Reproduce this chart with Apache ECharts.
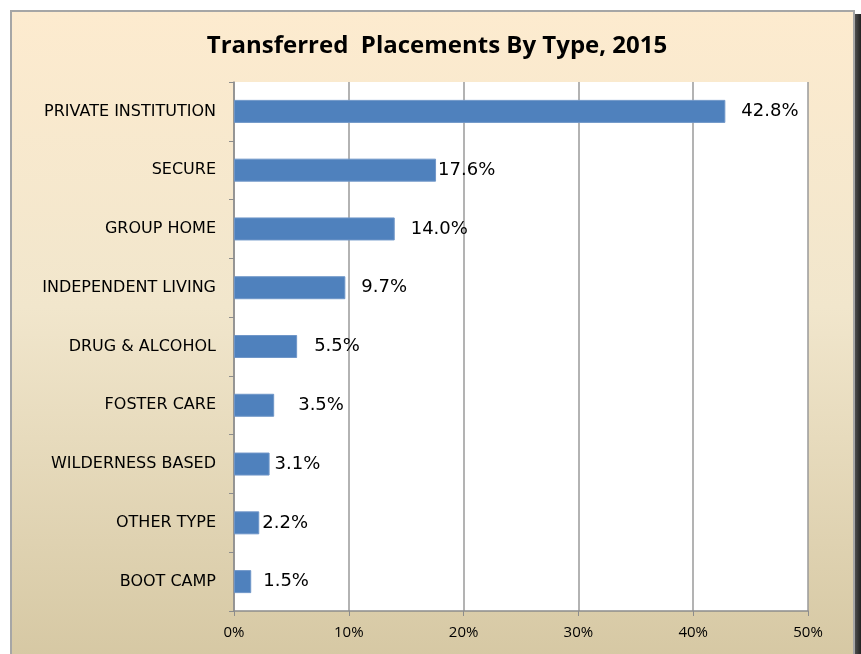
<!DOCTYPE html>
<html>
<head>
<meta charset="utf-8">
<script src="https://cdn.jsdelivr.net/npm/echarts@6/dist/echarts.min.js"></script>
<style>
  html, body { margin: 0; padding: 0; background: #fff; }
  #main { width: 861px; height: 654px; }
</style>
</head>
<body>
<div id="main"></div>
<script>
// categories listed top to bottom as in the picture
var categories = ['PRIVATE INSTITUTION', 'SECURE', 'GROUP HOME', 'INDEPENDENT LIVING',
  'DRUG & ALCOHOL', 'FOSTER CARE', 'WILDERNESS BASED', 'OTHER TYPE', 'BOOT CAMP'];
var percents = [42.8, 17.6, 14.0, 9.7, 5.5, 3.5, 3.1, 2.2, 1.5];
var xTicks = [0, 10, 20, 30, 40, 50];

var chart = echarts.init(document.getElementById('main'));

var font = '"Open Sans", "DejaVu Sans", sans-serif';
// the labels in the original sit at uneven gaps from the bar ends
var labelGap = [16, 2, 16, 16, 17, 24, 5, 3, 12];

var barData = percents.map(function (v, i) {
  return { value: v, label: { distance: labelGap[i] } };
});

var option = {
  backgroundColor: '#ffffff',
  animation: false,
  graphic: [
    {
      // drop shadow on the right edge
      type: 'rect',
      z: -10,
      shape: { x: 854, y: 14, width: 7, height: 650 },
      style: {
        fill: new echarts.graphic.LinearGradient(0, 0, 1, 0, [
          { offset: 0, color: '#555' },
          { offset: 1, color: '#222' }
        ])
      }
    },
    {
      type: 'rect',
      z: -9,
      shape: { x: 11, y: 11, width: 843, height: 660 },
      style: {
        fill: new echarts.graphic.LinearGradient(0, 0, 0, 1, [
          { offset: 0, color: '#fdebcf' },
          { offset: 0.45, color: '#f1e6cc' },
          { offset: 1, color: '#d5c7a2' }
        ]),
        stroke: '#a6a6a6',
        lineWidth: 2
      }
    }
  ],
  title: {
    text: 'Transferred  Placements By Type, 2015',
    left: 432,
    textAlign: 'center',
    top: 29,
    textStyle: {
      fontFamily: font,
      fontWeight: 'bold',
      fontSize: 24,
      color: '#000'
    }
  },
  grid: {
    left: 234,
    right: 53,
    top: 82,
    bottom: 43,
    show: true,
    backgroundColor: '#ffffff',
    borderWidth: 0
  },
  xAxis: {
    type: 'value',
    min: xTicks[0],
    max: xTicks[xTicks.length - 1],
    interval: 10,
    axisLine: { show: true, lineStyle: { color: '#8c8c8c', width: 1.5 } },
    axisTick: { show: true, length: 5, lineStyle: { color: '#8c8c8c' } },
    splitLine: { show: true, lineStyle: { color: '#9a9a9a', width: 1.5 } },
    axisLabel: {
      margin: 14,
      fontFamily: font,
      fontSize: 15,
      color: '#000',
      formatter: function (v) { return v + '%'; }
    }
  },
  yAxis: {
    type: 'category',
    inverse: true,
    data: categories,
    axisLine: { show: true, lineStyle: { color: '#8c8c8c', width: 1.5 } },
    axisTick: { show: true, length: 5, lineStyle: { color: '#8c8c8c' } },
    axisLabel: {
      margin: 18,
      fontFamily: '"DejaVu Sans", sans-serif',
      fontSize: 16,
      color: '#000'
    }
  },
  series: [{
    type: 'bar',
    data: barData,
    barWidth: 23,
    itemStyle: {
      color: '#4f81bd',
      borderColor: '#6f96c8',
      borderWidth: 1
    },
    label: {
      show: true,
      position: 'right',
      fontFamily: '"DejaVu Sans", sans-serif',
      fontSize: 18,
      color: '#000',
      formatter: function (p) { return p.value.toFixed(1) + '%'; }
    }
  }]
};

chart.setOption(option);
</script>
</body>
</html>
